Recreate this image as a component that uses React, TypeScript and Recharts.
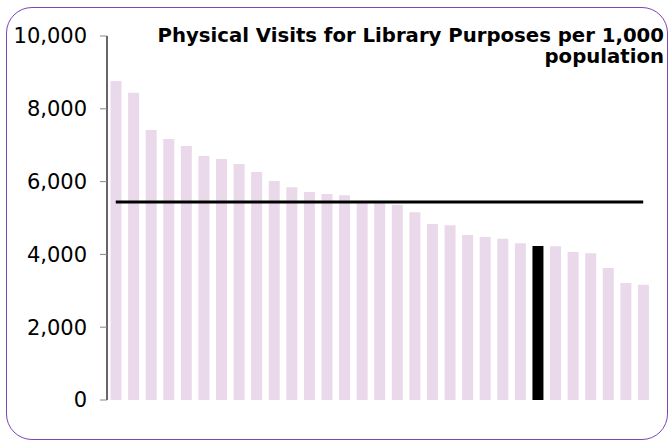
import { ComposedChart, Bar, Line, XAxis, YAxis, Cell } from "recharts";

// Libraries, ranked high to low (names not shown on the chart)
const libraries = [
  "L01", "L02", "L03", "L04", "L05", "L06", "L07", "L08", "L09", "L10",
  "L11", "L12", "L13", "L14", "L15", "L16", "L17", "L18", "L19", "L20",
  "L21", "L22", "L23", "L24", "L25", "L26", "L27", "L28", "L29", "L30", "L31",
];

const visits = [
  8764, 8443, 7418, 7170, 6978, 6703, 6621, 6484, 6264, 6016,
  5842, 5714, 5659, 5623, 5450, 5410, 5366, 5156, 4835, 4799,
  4533, 4478, 4432, 4304, 4231, 4222, 4066, 4029, 3626, 3214, 3168,
];

// Average line across all libraries
const average = 5440;

// The highlighted library
const highlighted = "L25";

const yTicks = [0, 2000, 4000, 6000, 8000, 10000];

const BAR_COLOR = "#ead9ea";
const HIGHLIGHT_COLOR = "#000000";

const data = libraries.map((name, i) => ({
  name,
  visits: visits[i],
  avg: average,
}));

export default function App() {
  return (
    <div style={{ position: "absolute", left: 0, top: 0, width: 669, height: 441, background: "#fff", fontFamily: "'DejaVu Sans', Verdana, sans-serif" }}>
      {/* Rahmen */}
      <div
        style={{
          position: "absolute",
          left: 6,
          top: 7,
          width: 662,
          height: 433,
          boxSizing: "border-box",
          border: "1.5px solid #7d45b8",
          borderRadius: 26,
        }}
      />
      <ComposedChart
        width={669}
        height={441}
        data={data}
        margin={{ top: 36, right: 17, bottom: 41, left: 7 }}
        barCategoryGap="20%"
      >
        <XAxis
          dataKey="name"
          tick={false}
          tickLine={false}
          height={0}
          axisLine={{ stroke: "#000", strokeWidth: 1.2 }}
        />
        <YAxis
          width={100}
          domain={[0, 10000]}
          ticks={yTicks}
          interval={0}
          tickSize={7}
          tickMargin={13}
          tickLine={{ stroke: "#888" }}
          axisLine={{ stroke: "#000", strokeWidth: 1.2 }}
          tick={{ fill: "#000", fontSize: 21, fontFamily: "'DejaVu Sans', Verdana, sans-serif" }}
          tickFormatter={(v: number) => v.toLocaleString("en-US")}
        />
        <Bar dataKey="visits" isAnimationActive={false}>
          {data.map((d) => (
            <Cell key={d.name} fill={d.name === highlighted ? HIGHLIGHT_COLOR : BAR_COLOR} />
          ))}
        </Bar>
        <Line
          dataKey="avg"
          stroke="#000"
          strokeWidth={3}
          dot={false}
          activeDot={false}
          isAnimationActive={false}
        />
      </ComposedChart>
      {/* Titel oben rechts */}
      <div
        style={{
          position: "absolute",
          right: 5,
          top: 25,
          textAlign: "right",
          fontWeight: "bold",
          fontSize: 19.7,
          lineHeight: "21px",
        }}
      >
        Physical Visits for Library Purposes per 1,000
        <br />
        population
      </div>
    </div>
  );
}
